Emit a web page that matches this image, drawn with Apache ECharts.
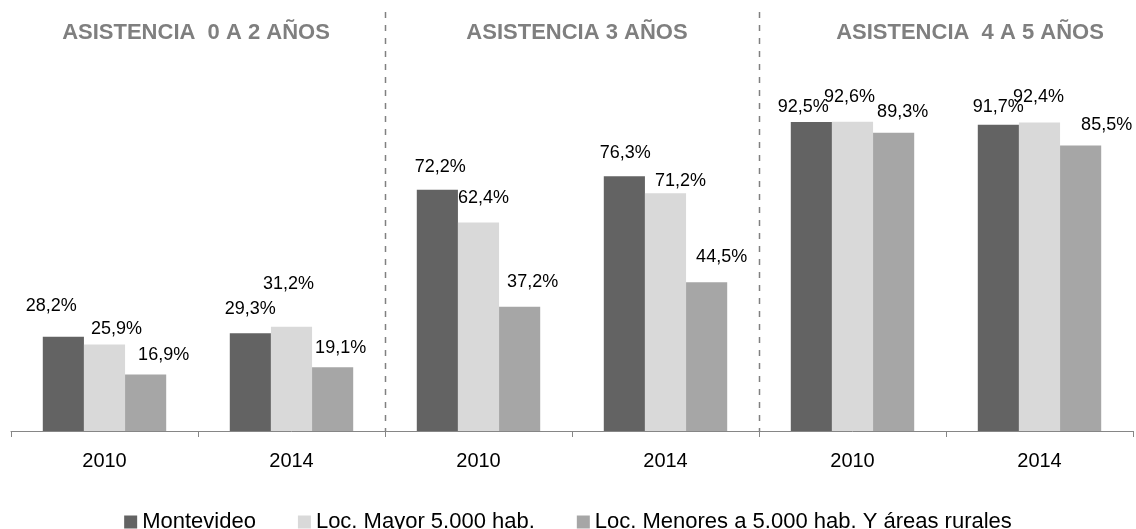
<!DOCTYPE html>
<html>
<head>
<meta charset="utf-8">
<script src="https://cdn.jsdelivr.net/npm/echarts@6/dist/echarts.min.js"></script>
<style>
  html, body { margin: 0; padding: 0; background: #fff; }
  #chart { width: 1136px; height: 529px; }
</style>
</head>
<body>
<div id="chart"></div>
<script>
// datos
var years = ['2010', '2014', '2010', '2014', '2010', '2014'];
var groupTitles = ['ASISTENCIA  0 A 2 AÑOS', 'ASISTENCIA 3 AÑOS', 'ASISTENCIA  4 A 5 AÑOS'];
var seriesNames = ['Montevideo', 'Loc. Mayor 5.000 hab.', 'Loc. Menores a 5.000 hab. Y áreas rurales'];
var montevideo = [28.2, 29.3, 72.2, 76.3, 92.5, 91.7];
var locMayor = [25.9, 31.2, 62.4, 71.2, 92.6, 92.4];
var locMenores = [16.9, 19.1, 37.2, 44.5, 89.3, 85.5];

// desplazamiento de etiquetas (como en el original)
var labelNudge = [
    [[-12, -17], [0, -10], [3, -9], [1, -9], [-8, -1], [0, -4]],
    [[12, -1], [-3, -29], [5, -11], [15, 2], [-3, -11], [-1, -11]],
    [[18, -6], [8, -5], [13, -11], [15, -11], [9, -7], [26, -6]]
];
var colors = ['#636363', '#d9d9d9', '#a6a6a6'];
var font = 'Liberation Sans';

var chart = echarts.init(document.getElementById('chart'));

function fmt(v) {
    return v.toFixed(1).replace('.', ',') + '%';
}

function makeSeries(idx, values) {
    return {
        name: seriesNames[idx],
        type: 'bar',
        barGap: '0%',
        barCategoryGap: '34%',
        itemStyle: { color: colors[idx] },
        data: values.map(function(v, i) {
            return {
                value: v,
                label: { offset: labelNudge[idx][i] }
            };
        }),
        label: {
            show: true,
            position: 'top',
            distance: 5,
            color: '#000',
            fontFamily: font,
            fontSize: 18,
            formatter: function(p) { return fmt(p.value); }
        }
    };
}

var option = {
    animation: false,
    color: colors,
    grid: {
        left: 11,
        right: 3,
        top: 97,
        bottom: 98,
        containLabel: false
    },
    legend: {
        top: 506,
        left: 'center',
        itemWidth: 13,
        itemHeight: 13,
        itemGap: 42,
        icon: 'rect',
        textStyle: { color: '#000', fontFamily: font, fontSize: 22 },
        data: seriesNames
    },
    xAxis: {
        type: 'category',
        data: years,
        axisLine: { lineStyle: { color: '#868686', width: 1 } },
        axisTick: { show: true, length: 6, lineStyle: { color: '#868686' } },
        axisLabel: { color: '#000', fontFamily: font, fontSize: 20, margin: 20 },
        splitLine: { show: false }
    },
    yAxis: {
        type: 'value',
        min: 0,
        max: 100,
        show: false
    },
    series: [
        makeSeries(0, montevideo),
        makeSeries(1, locMayor),
        makeSeries(2, locMenores)
    ]
};
chart.setOption(option);

// separadores y titulos de grupo
var gfx = [];
var axisY = chart.convertToPixel({ gridIndex: 0 }, [0, 0])[1];
for (var g = 1; g < 3; g++) {
    var a = chart.convertToPixel({ xAxisIndex: 0 }, g * 2 - 1);
    var b = chart.convertToPixel({ xAxisIndex: 0 }, g * 2);
    var x = Math.round((a + b) / 2) + 0.5;
    gfx.push({
        type: 'line',
        shape: { x1: x, y1: 12, x2: x, y2: axisY },
        style: { stroke: '#808080', lineWidth: 1.5, lineDash: [6, 7] },
        silent: true
    });
}
var titleX = [196, 577, 970];
groupTitles.forEach(function(t, i) {
    gfx.push({
        type: 'text',
        x: titleX[i],
        y: 33,
        style: {
            text: t,
            fill: '#7f7f7f',
            font: 'bold 22px "' + font + '"',
            textAlign: 'center',
            textVerticalAlign: 'middle'
        },
        silent: true
    });
});
chart.setOption({ graphic: gfx });
</script>
</body>
</html>
